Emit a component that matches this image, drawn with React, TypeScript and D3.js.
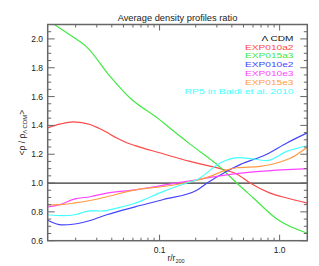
import React from "react";
import * as d3 from "d3";

const W = 319, H = 266;
const X_DOMAIN = [0.0117, 1.7];
const Y_DOMAIN = [0.6, 2.1];

const xMajor = [0.1, 1.0];
const xMajorLabels = ["0.1", "1.0"];
const xMinor = [0.02, 0.03, 0.04, 0.05, 0.06, 0.07, 0.08, 0.09, 0.2, 0.3, 0.4, 0.5, 0.6, 0.7, 0.8, 0.9];
const yMajor = [0.6, 0.8, 1.0, 1.2, 1.4, 1.6, 1.8, 2.0];
const yMajorLabels = ["0.6", "0.8", "1.0", "1.2", "1.4", "1.6", "1.8", "2.0"];

const redX = [0.0117, 0.015, 0.0191, 0.0264, 0.0309, 0.0363, 0.044, 0.0533, 0.0625, 0.1, 0.1795, 0.3515, 0.4396, 0.5676, 0.8321, 1.148, 1.7];
const redY = [1.383, 1.41, 1.424, 1.406, 1.382, 1.352, 1.312, 1.28, 1.26, 1.21, 1.15, 1.09, 1.063, 1.0, 0.93, 0.896, 0.861];

const greenX = [0.0117, 0.01328, 0.01854, 0.025, 0.03869, 0.05676, 0.1, 0.1224, 0.1795, 0.3194, 0.4396, 0.6047, 0.9479, 1.7];
const greenY = [2.13, 2.1, 2.02, 1.94, 1.74, 1.59, 1.44, 1.38, 1.27, 1.11, 1.0, 0.896, 0.75, 0.652];

const blueX = [0.0117, 0.0153, 0.0197, 0.0264, 0.0363, 0.0625, 0.1076, 0.2042, 0.249, 0.3515, 0.4686, 0.781, 1.148, 1.7];
const blueY = [0.742, 0.71, 0.716, 0.74, 0.78, 0.835, 0.886, 0.95, 1.0, 1.075, 1.128, 1.2, 1.278, 1.348];

const magentaX = [0.0117, 0.0148, 0.0197, 0.0264, 0.0363, 0.0625, 0.1076, 0.2042, 0.3515, 0.6047, 1.148, 1.7];
const magentaY = [0.834, 0.85, 0.89, 0.905, 0.93, 0.953, 0.985, 1.023, 1.055, 1.077, 1.093, 1.1];

const orangeX = [0.0117, 0.0158, 0.0197, 0.0264, 0.0363, 0.0625, 0.1076, 0.1685, 0.2631, 0.3515, 0.4396, 0.6871, 1.01, 1.389, 1.7];
const orangeY = [0.848, 0.852, 0.862, 0.879, 0.905, 0.953, 0.976, 1.004, 1.046, 1.088, 1.106, 1.116, 1.146, 1.197, 1.25];

const cyanX = [0.0117, 0.0158, 0.0197, 0.0264, 0.033, 0.044, 0.0625, 0.1076, 0.1685, 0.2042, 0.3194, 0.3515, 0.451, 0.6047, 0.781, 1.148, 1.7];
const cyanY = [0.78, 0.774, 0.78, 0.807, 0.806, 0.826, 0.86, 0.942, 1.0, 1.023, 1.139, 1.155, 1.176, 1.167, 1.155, 1.22, 1.259];

const seriesNames = ["EXP010a2", "EXP015a3", "EXP010e2", "EXP010e3", "EXP015e3", "RP5 in Baldi et al. 2010"];
const seriesColors = ["#ff4848", "#44e844", "#4444ff", "#ff44ff", "#ff9a44", "#44ffff"];
const seriesX = [redX, greenX, blueX, magentaX, orangeX, cyanX];
const seriesY = [redY, greenY, blueY, magentaY, orangeY, cyanY];

const FONT = "Liberation Sans, Arial, Helvetica, sans-serif";

export default function App() {
  const left = 47.7, right = 307.3, top = 24.5, bottom = 240.7;
  const x = d3.scaleLog().domain(X_DOMAIN).range([left, right]);
  const y = d3.scaleLinear().domain(Y_DOMAIN).range([bottom, top]);
  const yMinor = d3.range(0.65, 2.1, 0.05).filter((v) => Math.abs(v * 5 - Math.round(v * 5)) > 0.01);

  const line = (xs: number[], ys: number[]) =>
    d3.line<number>().x((_, i) => x(xs[i])).y((d) => y(d)).curve(d3.curveMonotoneX)(ys) || "";

  const axisColor = "#666";
  const legendRight = 293.5;
  const legendY = d3.range(7).map((i) => 37.8 + i * 8.85);
  const legendW = [48.5, 48.5, 48.5, 48.5, 48.5, 109];
  const fs = 7.7;

  return (
    <svg width={W} height={H} style={{ position: "absolute", left: 0, top: 0, background: "#fff" }}>
      <defs>
        <clipPath id="plotclip">
          <rect x={left} y={top} width={right - left} height={bottom - top} />
        </clipPath>
      </defs>
      <rect width={W} height={H} fill="#fff" />
      <text x={(left + right) / 2} y={21} textAnchor="middle" fontFamily={FONT} fontSize={9.3} fill="#222">
        Average density profiles ratio
      </text>

      <line x1={left} x2={right} y1={y(1)} y2={y(1)} stroke="#333" strokeWidth={1.2} />

      <g clipPath="url(#plotclip)">
        {seriesX.map((xs, i) => (
          <path key={i} d={line(xs, seriesY[i])} fill="none" stroke={seriesColors[i]} strokeWidth={1.2} />
        ))}
      </g>

      <rect x={left} y={top} width={right - left} height={bottom - top} fill="none" stroke={axisColor} strokeWidth={1.5} />

      {xMajor.map((v, i) => (
        <g key={"xm" + i}>
          <line x1={x(v)} x2={x(v)} y1={bottom} y2={bottom - 6} stroke={axisColor} />
          <line x1={x(v)} x2={x(v)} y1={top} y2={top + 6} stroke={axisColor} />
          <text x={x(v)} y={253} textAnchor="middle" fontFamily={FONT} fontSize={8.5} fill="#222">
            {xMajorLabels[i]}
          </text>
        </g>
      ))}
      {xMinor.map((v, i) => (
        <g key={"xn" + i}>
          <line x1={x(v)} x2={x(v)} y1={bottom} y2={bottom - 3} stroke={axisColor} />
          <line x1={x(v)} x2={x(v)} y1={top} y2={top + 3} stroke={axisColor} />
        </g>
      ))}

      {yMajor.map((v, i) => (
        <g key={"ym" + i}>
          <line x1={left} x2={left + 7} y1={y(v)} y2={y(v)} stroke={axisColor} />
          <line x1={right} x2={right - 7} y1={y(v)} y2={y(v)} stroke={axisColor} />
          <text x={43} y={y(v) + 3} textAnchor="end" fontFamily={FONT} fontSize={8.5} fill="#222">
            {yMajorLabels[i]}
          </text>
        </g>
      ))}
      {yMinor.map((v, i) => (
        <g key={"yn" + i}>
          <line x1={left} x2={left + 3.5} y1={y(v)} y2={y(v)} stroke={axisColor} />
          <line x1={right} x2={right - 3.5} y1={y(v)} y2={y(v)} stroke={axisColor} />
        </g>
      ))}

      <text x={176} y={261} textAnchor="middle" fontFamily={FONT} fontSize={8.5} fill="#222">
        r/r<tspan fontSize={5.5} dy={2}>200</tspan>
      </text>
      <text transform={`translate(24.5, ${(top + bottom) / 2}) rotate(-90)`} textAnchor="middle" fontFamily={FONT} fontSize={8.5} fill="#222">
        &lt;ρ / ρ<tspan fontSize={6} dy={2}>Λ CDM</tspan><tspan dy={-2}>&gt;</tspan>
      </text>

      <text x={legendRight} y={legendY[0] + 2.9} textAnchor="end" fontFamily={FONT} fontSize={fs} fill="#111" textLength={32} lengthAdjust="spacingAndGlyphs">
        Λ CDM
      </text>
      {seriesNames.map((n, i) => (
        <text key={n} x={legendRight} y={legendY[i + 1] + 2.9} textAnchor="end" fontFamily={FONT} fontSize={fs} fill={seriesColors[i]} textLength={legendW[i]} lengthAdjust="spacingAndGlyphs">
          {n}
        </text>
      ))}
    </svg>
  );
}
